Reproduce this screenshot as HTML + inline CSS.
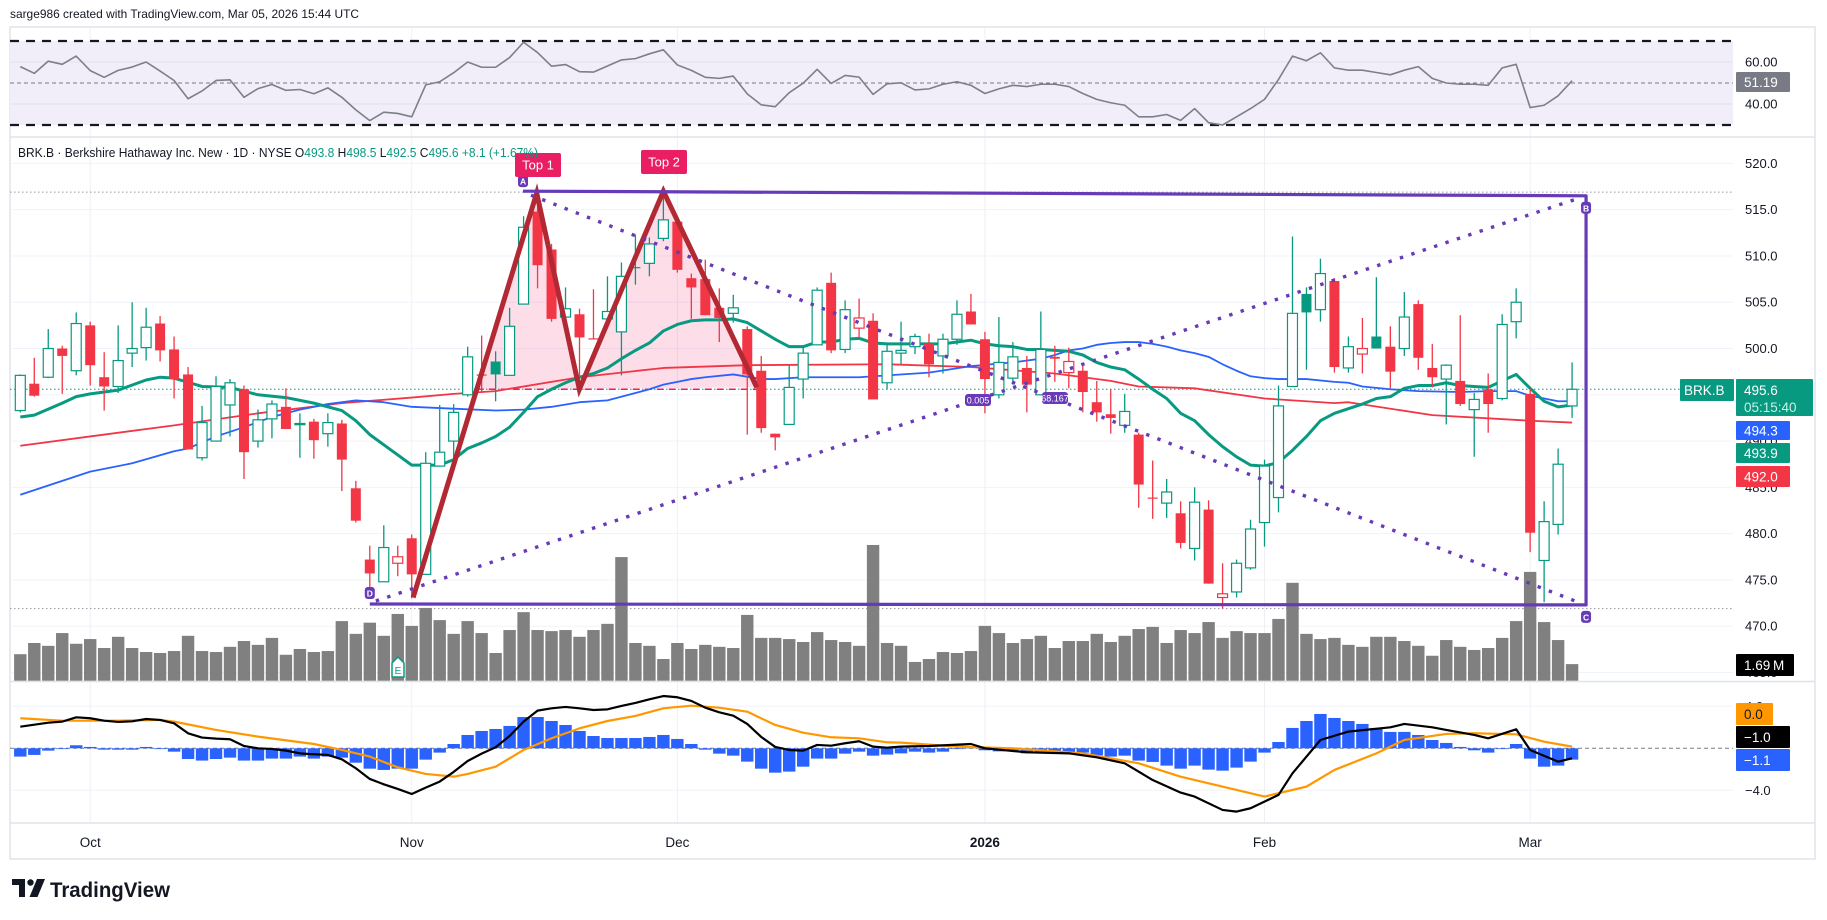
<!DOCTYPE html>
<html><head><meta charset="utf-8"><title>BRK.B chart</title>
<style>
html,body{margin:0;padding:0;background:#fff;}
svg{display:block;font-family:"Liberation Sans",Arial,sans-serif;}
</style></head>
<body>
<svg id="chart" width="1827" height="920" viewBox="0 0 1827 920" xmlns="http://www.w3.org/2000/svg">
  <rect x="0" y="0" width="1827" height="920" fill="#ffffff"/>
  <text x="10" y="18" font-size="12" fill="#131722" textLength="349" lengthAdjust="spacingAndGlyphs">sarge986 created with TradingView.com, Mar 05, 2026 15:44 UTC</text>
  <rect x="10" y="27" width="1805" height="832" fill="none" stroke="#e0e3eb" stroke-width="1.5"/>
  <g id="grid"></g>
  <g id="rsiPane"></g>
  <g id="volPane"></g>
  <g id="fills"></g>
  <g id="maPane"></g>
  <g id="candlePane"></g>
  <g id="drawPane"></g>
  <g id="macdPane"></g>
  <g id="axisPane"></g>
  <text x="18" y="157" font-size="13" fill="#131722" textLength="520" lengthAdjust="spacingAndGlyphs">BRK.B · Berkshire Hathaway Inc. New · 1D · NYSE  O<tspan fill="#089981">493.8</tspan>  H<tspan fill="#089981">498.5</tspan>  L<tspan fill="#089981">492.5</tspan>  C<tspan fill="#089981">495.6</tspan>  <tspan fill="#089981">+8.1 (+1.67%)</tspan></text>
  <g>
    <path d="M12 879 h13 v18 h-6 v-12 h-7 z" fill="#131722"/>
    <circle cx="30.5" cy="882.5" r="3.2" fill="#131722"/>
    <path d="M37 879 h8 l-7.5 18 h-8 z" fill="#131722"/>
    <text x="50" y="897" font-size="21" font-weight="bold" fill="#131722" textLength="120" lengthAdjust="spacingAndGlyphs">TradingView</text>
  </g>
</svg>
<script>
// ---------- data ----------
const opens=[493.3,496.2,496.9,500.0,497.6,502.5,496.9,495.9,499.5,500.1,502.7,499.9,497.2,488.2,490.0,493.9,495.6,490.0,492.4,493.7,491.8,492.1,490.8,491.9,484.9,477.2,474.8,476.8,479.5,475.6,487.3,490.0,495.0,497.2,498.6,497.1,504.8,514.8,510.7,503.4,503.7,501.1,503.2,501.8,508.8,509.2,511.9,513.7,507.6,507.5,504.4,503.8,502.1,497.6,490.8,491.8,496.7,500.4,507.1,499.9,502.2,503.0,496.3,499.5,500.2,500.5,499.2,501.0,504.0,501.0,495.0,496.8,497.9,495.0,499.1,497.4,497.6,494.2,492.9,491.7,490.7,483.9,483.3,482.2,478.4,482.6,473.1,473.7,476.3,481.2,483.9,495.9,505.9,504.2,507.3,497.9,499.4,501.3,500.2,500.0,504.8,497.9,496.7,496.5,493.4,495.6,494.6,502.9,495.1,477.1,481.0,493.8];
const highs=[497.2,499.0,502.1,500.3,503.9,502.9,499.6,502.5,505.0,504.4,503.5,501.3,498.0,493.8,497.0,496.7,496.0,493.4,494.4,495.7,493.0,492.4,493.0,492.3,485.7,478.7,480.9,478.7,479.9,488.8,493.9,494.0,500.2,501.4,499.7,504.4,514.3,516.6,511.3,506.6,504.3,506.4,507.8,509.3,512.3,512.0,516.9,513.8,508.1,509.6,506.5,505.8,502.4,499.2,490.8,498.2,500.2,506.6,508.2,505.2,505.4,503.8,500.4,502.9,501.6,501.6,501.6,505.2,505.9,501.8,503.4,500.7,499.2,504.0,500.3,500.1,498.3,496.5,495.6,495.1,490.9,487.9,485.9,483.5,485.0,483.6,476.8,477.2,481.5,488.0,496.0,512.1,506.6,509.7,507.6,501.3,503.3,507.7,502.4,506.1,505.2,500.5,498.3,503.6,495.2,497.3,503.7,506.5,495.7,483.5,489.2,498.5];
const lows=[493.1,494.8,496.8,495.1,497.1,496.0,493.3,495.2,498.0,498.7,498.6,494.6,489.1,487.9,490.0,490.5,485.9,489.3,490.3,491.3,488.2,488.1,489.4,484.6,481.2,474.0,474.8,475.4,473.0,475.6,487.3,486.8,494.8,495.2,494.3,497.1,504.8,506.5,502.9,502.8,495.4,501.0,503.2,497.1,506.9,507.8,511.6,508.2,503.2,503.6,500.7,502.8,490.7,490.9,489.0,491.8,494.6,500.4,499.5,499.5,501.1,494.5,495.6,498.3,499.4,496.9,497.3,500.4,502.6,493.0,494.6,496.1,493.1,495.0,496.4,495.7,493.1,492.1,490.8,490.9,482.8,481.6,481.7,478.4,477.1,474.6,471.9,473.1,476.1,478.6,482.3,495.9,497.7,502.9,497.4,497.4,497.3,500.0,495.7,499.2,497.7,495.8,491.8,493.8,488.3,490.9,494.4,501.1,478.0,472.6,479.9,492.5];
const closes=[497.1,494.9,500.0,499.2,502.7,498.2,495.9,498.7,500.0,502.3,499.8,496.7,489.1,492.0,495.9,496.3,488.8,492.3,494.0,491.3,491.9,490.1,492.0,488.0,481.4,475.7,478.5,477.5,475.6,487.6,488.8,493.1,499.1,497.1,497.2,502.4,513.1,509.0,503.2,504.3,501.2,501.0,504.0,507.8,508.7,511.3,513.9,508.5,506.6,503.6,503.3,504.4,497.2,491.4,490.4,495.8,499.5,506.3,499.8,504.2,503.3,494.5,499.7,499.8,501.3,498.3,501.0,503.7,502.6,496.7,498.5,499.1,496.1,499.9,498.9,498.6,495.3,493.1,492.5,493.2,485.3,483.8,484.5,479.0,483.4,474.6,473.5,476.8,480.5,487.3,493.8,503.8,503.9,508.1,498.0,500.2,500.0,500.0,497.5,503.4,499.0,496.9,498.2,494.0,494.5,494.0,502.6,505.0,480.1,481.3,487.5,495.6];
const volumes=[2.70,3.84,3.55,4.85,3.76,4.24,3.33,4.47,3.33,2.92,2.82,3.02,4.57,3.02,2.92,3.45,4.04,3.65,4.36,2.64,3.23,2.92,3.02,6.07,4.77,5.91,4.57,6.80,5.58,7.41,6.17,4.77,6.07,4.85,2.82,5.16,6.98,5.16,5.05,5.16,4.47,5.16,5.79,12.59,3.84,3.55,2.21,3.84,3.23,3.65,3.45,3.33,6.70,4.36,4.36,4.24,3.94,4.95,4.14,3.94,3.55,13.82,3.84,3.55,1.91,2.21,2.92,2.82,3.02,5.58,4.85,3.84,4.24,4.57,3.33,4.04,4.04,4.77,3.94,4.57,5.26,5.48,3.84,5.16,4.85,5.97,4.36,5.05,4.85,4.85,6.29,9.97,4.77,4.24,4.36,3.65,3.45,4.47,4.47,4.04,3.55,2.54,4.14,3.45,3.13,3.33,4.36,6.07,11.08,5.97,4.14,1.69];
const rsiValues=[57.8,54.6,60.4,58.9,62.8,55.9,52.7,56.0,57.6,60.0,55.7,51.2,42.5,46.2,51.2,51.5,43.2,47.3,49.3,46.5,46.9,44.9,47.7,43.2,37.2,32.1,36.1,35.5,33.9,49.1,50.6,54.9,60.0,57.5,57.5,62.1,69.4,64.5,58.0,58.8,55.4,55.2,58.1,61.0,61.6,63.9,65.8,58.6,56.0,52.7,52.2,53.3,44.8,39.6,38.7,45.4,49.9,56.5,49.8,53.6,52.8,44.6,49.6,50.1,46.7,47.2,49.4,50.6,48.9,45.0,47.2,48.9,48.3,49.4,49.4,48.3,45.0,42.2,40.6,39.4,33.9,33.9,35.0,32.2,37.8,31.1,30.0,33.9,37.8,42.2,51.7,62.8,60.6,64.4,57.2,56.1,56.1,55.0,53.9,56.1,57.8,52.2,50.0,49.4,49.4,48.9,57.2,58.9,38.3,39.4,43.9,51.1];
const macdHist=[-0.79,-0.63,-0.22,-0.05,0.29,0.13,-0.13,-0.13,-0.13,0.13,-0.05,-0.32,-1.02,-1.17,-1.02,-0.89,-1.17,-1.17,-0.98,-0.98,-0.79,-0.98,-0.79,-0.89,-1.37,-1.94,-2.06,-1.94,-1.94,-1.08,-0.41,0.41,1.27,1.65,1.84,2.13,2.98,2.98,2.60,2.22,1.65,1.17,0.98,0.98,0.98,1.08,1.27,0.89,0.41,-0.13,-0.51,-0.70,-1.27,-1.94,-2.32,-2.22,-1.75,-0.98,-0.98,-0.51,-0.32,-0.70,-0.60,-0.48,-0.32,-0.41,-0.32,-0.05,0.13,-0.19,-0.29,-0.19,-0.48,-0.41,-0.41,-0.41,-0.41,-0.67,-0.79,-0.70,-1.17,-1.30,-1.65,-1.94,-1.65,-2.03,-2.13,-1.84,-1.27,-0.41,0.60,1.94,2.60,3.27,2.89,2.60,2.32,1.94,1.56,1.56,1.27,0.79,0.51,0.13,-0.19,-0.41,-0.05,0.41,-0.98,-1.75,-1.65,-1.08];
const macdIdx=[0,2,3,4,5,6,7,8,9,10,11,12,13,14,15,16,17,18,19,20,21,22,23,24,25,26,27,28,29,30,31,32,33,34,35,36,37,38,39,40,41,42,43,44,45,46,47,48,49,50,51,52,53,54,55,56,57,58,59,60,61,62,63,65,68,69,72,75,77,79,81,83,84,86,87,88,90,91,93,95,98,99,101,102,104,105,107,108,110,111];
const macdLine=[2.06,2.44,2.54,2.95,2.86,2.63,2.51,2.57,2.79,2.70,2.38,1.43,1.02,0.92,0.86,0.22,0.0,-0.06,-0.22,-0.48,-0.57,-0.63,-1.05,-1.90,-2.92,-3.43,-3.87,-4.35,-3.75,-3.17,-2.25,-1.21,-0.51,0.10,1.17,2.54,3.59,3.81,3.94,3.81,3.65,3.71,4.03,4.32,4.67,4.98,4.86,4.51,3.87,3.43,3.11,2.32,1.08,0.13,-0.16,-0.22,0.32,0.25,0.48,0.67,0.16,0.06,0.16,0.22,0.41,0.0,-0.38,-0.48,-0.86,-1.43,-3.02,-4.22,-4.60,-5.87,-6.03,-5.71,-4.44,-2.38,0.79,1.59,2.00,2.32,2.00,1.75,1.27,0.95,1.81,-0.16,-1.27,-0.95];
const signalIdx=[0,3,7,10,11,14,17,21,23,25,27,29,31,32,34,36,38,40,42,44,46,48,50,52,54,56,58,60,62,63,67,71,76,80,83,87,89,92,94,97,99,102,104,107,109,111];
const signalLine=[2.86,2.63,2.63,2.70,2.54,1.75,1.11,0.41,-0.16,-0.79,-1.81,-2.44,-2.70,-2.44,-1.75,-0.16,0.95,1.90,2.60,3.08,3.81,4.06,3.87,3.49,2.22,1.49,1.05,0.95,0.57,0.54,0.16,0.0,-0.48,-1.43,-2.70,-3.97,-4.60,-3.65,-2.06,-0.48,0.79,1.37,1.43,1.33,0.63,0.16];
const emaIdx=[0,1,3,4,5,7,9,10,11,13,15,16,17,19,21,23,24,25,26,27,28,30,31,32,33,34,35,36,37,38,39,40,41,42,43,44,45,46,47,48,49,50,51,52,53,54,55,56,57,58,59,60,61,62,63,64,65,66,67,68,69,70,71,72,73,74,75,76,77,78,79,80,81,82,83,84,85,86,87,88,89,90,91,92,93,94,95,96,97,98,99,100,101,102,103,104,105,106,107,108,109,110,111];
const emaValues=[492.6,492.8,494.1,494.8,495.1,495.5,496.6,496.9,496.8,495.9,495.8,495.4,495.0,494.7,494.1,493.3,492.2,490.7,489.6,488.5,487.4,487.4,488.0,489.2,489.8,490.5,491.5,493.1,494.8,495.6,496.3,496.9,497.3,497.9,498.9,499.8,500.6,501.9,502.6,503.0,503.1,503.1,503.2,502.8,501.9,501.0,500.2,500.2,500.7,500.7,501.0,501.1,500.6,500.5,500.5,500.5,500.5,500.5,500.7,500.9,500.5,500.3,500.2,499.9,499.9,499.8,499.7,499.3,498.5,498.0,497.7,496.7,495.6,494.6,493.0,492.2,490.7,489.4,488.3,487.4,487.3,487.7,489.0,490.5,492.2,493.0,493.5,494.0,494.6,494.8,495.7,496.0,496.0,496.3,496.0,495.9,495.8,496.5,497.2,495.7,494.3,493.7,493.9];
const smaBlueIdx=[0,3,5,8,11,12,14,16,18,20,22,24,26,28,31,34,36,38,40,42,44,45,46,47,48,49,51,53,54,56,60,62,65,68,71,73,74,75,76,77,78,79,80,81,82,83,84,85,86,87,88,89,90,92,94,95,96,98,100,103,105,107,108,109,110,111];
const smaBlueValues=[484.2,485.7,486.7,487.6,488.9,489.2,490.5,491.5,492.6,493.4,494.0,494.4,494.2,493.7,493.5,493.3,493.4,493.7,494.2,494.4,495.2,495.6,496.1,496.4,496.7,496.9,497.2,496.7,496.7,496.9,496.9,497.1,497.4,498.1,498.5,498.9,499.3,499.8,500.0,500.4,500.6,500.7,500.7,500.5,500.2,499.8,499.5,499.1,498.3,497.6,497.0,496.8,496.7,496.7,496.4,496.3,495.9,495.6,495.4,495.3,495.4,495.4,494.9,494.6,494.3,494.3];
const smaRedIdx=[0,5,11,17,23,28,31,34,40,46,52,62,68,74,78,80,84,89,94,95,101,108,111];
const smaRedValues=[489.5,490.5,491.7,493.0,494.1,494.7,495.1,495.4,496.9,497.9,498.2,498.3,498.0,497.3,496.5,495.9,495.7,494.6,494.1,494.2,492.8,492.2,492.0];
const monthIdx=[5,28,47,69,89,108];
const monthLabels=["Oct","Nov","Dec","2026","Feb","Mar"];
const priceTicks=[520,515,510,505,500,495,490,485,480,475,470,465];
const patternIdx=[28.1,36.94,39.99,46.0,52.68];
const patternPrice=[473.1,516.8,495.6,517.0,495.8];
const boxIdx=[35.96,112,112,25.0];
const boxPrice=[517.0,516.5,472.3,472.4];

// ---------- scales ----------
function xOf(i){return 20.3+13.98*i;}
function yP(p){return 163.4+(520-p)*9.256;}
function yV(v){return 680.7-v*9.82;}
function yR(r){return 125-(r-30)*2.1;}
function yM(m){return 748.3-m*10.5;}
const NS="http://www.w3.org/2000/svg";
function mk(parent,tag,attrs,text){const e=document.createElementNS(NS,tag);for(const k in attrs)e.setAttribute(k,attrs[k]);if(text!==undefined)e.textContent=text;parent.appendChild(e);return e;}
const G=id=>document.getElementById(id);
const GREEN="#089981",RED="#f23645";
const PX1=1733;

// ---------- grid ----------
const grid=G('grid');
priceTicks.forEach(p=>{const l=mk(grid,'line',{x1:10,x2:PX1,y1:yP(p),y2:yP(p),stroke:'#f0f3fa','stroke-width':1});

});
[4,-4].forEach(m=>{const l=mk(grid,'line',{x1:10,x2:PX1,y1:yM(m),y2:yM(m),stroke:'#f0f3fa','stroke-width':1});

});
monthIdx.forEach((m,k)=>{const x=xOf(m);const l=mk(grid,'line',{x1:x,x2:x,y1:28,y2:823,stroke:'#eef0f4','stroke-width':1});


const t=mk(grid,'text',{x:x,y:847,'font-size':13.5,'text-anchor':'middle',fill:'#131722','font-weight':monthLabels[k]==='2026'?'bold':'normal'},monthLabels[k]);

});
[[137,'rsi-pane-separator'],[681.5,'macd-pane-separator'],[823,'time-axis-separator']].forEach(([y,n])=>{const l=mk(grid,'line',{x1:10,x2:1815,y1:y,y2:y,stroke:'#e0e3eb','stroke-width':1.5});

});
[[516.9,'#9598a1','high-level-line'],[471.9,'#9598a1','low-level-line'],[495.6,GREEN,'last-price-line']].forEach(([p,c,n])=>{const l=mk(grid,'line',{x1:10,x2:PX1,y1:yP(p),y2:yP(p),stroke:c,'stroke-width':1,'stroke-dasharray':'1.5 2.5'});

});

// ---------- RSI ----------
const rsi=G('rsiPane');
const band=mk(rsi,'rect',{x:10,y:yR(70),width:PX1-10,height:yR(30)-yR(70),fill:'#f1eef9'});


[60,40].forEach(r=>{const l=mk(rsi,'line',{x1:10,x2:PX1,y1:yR(r),y2:yR(r),stroke:'#e3e0ee','stroke-width':1});

});
const mid=mk(rsi,'line',{x1:10,x2:PX1,y1:yR(50),y2:yR(50),stroke:'#787b86','stroke-width':1,'stroke-dasharray':'4 3'});


[70,30].forEach(r=>{const l=mk(rsi,'line',{x1:10,x2:PX1,y1:yR(r),y2:yR(r),stroke:'#131722','stroke-width':2.2,'stroke-dasharray':'9 7'});

});
const rpts=rsiValues.map((v,i)=>xOf(i)+','+yR(v)).join(' ');
const rl=mk(rsi,'polyline',{points:rpts,fill:'none',stroke:'#7e7f86','stroke-width':1.6,'stroke-linejoin':'round'});



// ---------- Volume ----------
const vol=G('volPane');
volumes.forEach((v,i)=>{const r=mk(vol,'rect',{x:xOf(i)-6.2,y:yV(v),width:12.4,height:680.7-yV(v),fill:'#808080'});

});
const em=mk(vol,'g',{});


mk(em,'path',{d:'M392 663 L398 657 L404 663 L404 677 L392 677 Z',fill:'#fff',stroke:GREEN,'stroke-width':1.5});
mk(em,'text',{x:398,y:674,'font-size':10,'text-anchor':'middle',fill:GREEN},'E');

// ---------- Pattern fill ----------
const fills=G('fills');
const neck=yP(patternPrice[2]);
const p0x=xOf(patternIdx[0]),p0y=yP(patternPrice[0]),p1x=xOf(patternIdx[1]),p1y=yP(patternPrice[1]);
const tcross=(p0y-neck)/(p0y-p1y);const crossX=p0x+(p1x-p0x)*tcross;
let fpts=crossX+','+neck;
for(let k=1;k<patternIdx.length;k++)fpts+=' '+xOf(patternIdx[k])+','+yP(patternPrice[k]);
const fp=mk(fills,'polygon',{points:fpts,fill:'rgba(233,30,99,0.15)'});


const nl=mk(fills,'line',{x1:crossX,x2:xOf(patternIdx[4]),y1:neck,y2:neck,stroke:'#e91e63','stroke-width':1.5,'stroke-dasharray':'7 5'});



// ---------- MAs ----------
const ma=G('maPane');
function maLine(idx,vals,color,w,name){const pts=idx.map((i,k)=>xOf(i)+','+yP(vals[k])).join(' ');
const l=mk(ma,'polyline',{points:pts,fill:'none',stroke:color,'stroke-width':w,'stroke-linejoin':'round'});

}
maLine(smaRedIdx,smaRedValues,'#f23645',1.8,'ma-red-line');
maLine(smaBlueIdx,smaBlueValues,'#2962ff',1.8,'ma-blue-line');
maLine(emaIdx,emaValues,'#089981',3,'ma-green-line');

// ---------- Candles ----------
const cp=G('candlePane');
closes.forEach((c,i)=>{const o=opens[i],h=highs[i],l=lows[i];const prev=i>0?closes[i-1]:o;
const col=c>=prev?GREEN:RED;const hollow=c>o;const x=xOf(i);
const g=mk(cp,'g',{});


mk(g,'line',{x1:x,x2:x,y1:yP(h),y2:yP(l),stroke:col,'stroke-width':1.3});
const top=yP(Math.max(o,c)),bot=yP(Math.min(o,c));
mk(g,'rect',{x:x-5,y:top,width:10,height:Math.max(1.2,bot-top),fill:hollow?'#fff':col,stroke:col,'stroke-width':hollow?1.2:0});});

// ---------- Drawings ----------
const dp=G('drawPane');
const pz=mk(dp,'polyline',{points:patternIdx.map((i,k)=>xOf(i)+','+yP(patternPrice[k])).join(' '),fill:'none',stroke:'#b22833','stroke-width':5,'stroke-linejoin':'miter'});


const A=[xOf(boxIdx[0]),yP(boxPrice[0])],B=[xOf(boxIdx[1]),yP(boxPrice[1])],C=[xOf(boxIdx[2]),yP(boxPrice[2])],D=[xOf(boxIdx[3]),yP(boxPrice[3])];
const d1=mk(dp,'line',{x1:D[0]+6,y1:D[1]-3,x2:B[0]-6,y2:B[1]+2,stroke:'#673ab7','stroke-width':3.4,'stroke-dasharray':'3.4 8.6'});


const d2=mk(dp,'line',{x1:A[0]+8,y1:A[1]+4,x2:C[0]-6,y2:C[1]-2,stroke:'#673ab7','stroke-width':3.4,'stroke-dasharray':'3.4 8.6'});


const pl=mk(dp,'polyline',{points:A.join(',')+' '+B.join(',')+' '+C.join(',')+' '+D.join(','),fill:'none',stroke:'#673ab7','stroke-width':3.2,'stroke-linejoin':'round'});


[['A',A[0],A[1]-10],['B',B[0],B[1]+12],['C',C[0],C[1]+12],['D',D[0],D[1]-11]].forEach(([t,x,y])=>{const g=mk(dp,'g',{});


mk(g,'rect',{x:x-5,y:y-6,width:10,height:12,rx:3,fill:'#673ab7'});
mk(g,'text',{x:x,y:y+3.5,'font-size':8.5,'font-weight':'bold','text-anchor':'middle',fill:'#fff'},t);});
[['0.005',978,400],['68.167',1055,398]].forEach(([t,x,y])=>{const g=mk(dp,'g',{});


mk(g,'rect',{x:x-13,y:y-6,width:26,height:12,rx:3,fill:'#673ab7'});
mk(g,'text',{x:x,y:y+3.5,'font-size':9,'text-anchor':'middle',fill:'#fff'},t);});
[['Top 1',515,153],['Top 2',641,150]].forEach(([t,x,y])=>{const g=mk(dp,'g',{});


mk(g,'rect',{x:x,y:y,width:46,height:24,rx:2,fill:'#e91e63'});
mk(g,'text',{x:x+23,y:y+16.5,'font-size':13,'text-anchor':'middle',fill:'#fff'},t);});

// ---------- MACD ----------
const mp=G('macdPane');
const zl=mk(mp,'line',{x1:10,x2:PX1,y1:yM(0),y2:yM(0),stroke:'#787b86','stroke-width':1,'stroke-dasharray':'4 3'});


macdHist.forEach((h,i)=>{const y0=yM(0),y1=yM(h);const r=mk(mp,'rect',{x:xOf(i)-6.2,y:Math.min(y0,y1),width:12.4,height:Math.max(0.8,Math.abs(y1-y0)),fill:'#2962ff'});

});
const sg=mk(mp,'polyline',{points:signalIdx.map((i,k)=>xOf(i)+','+yM(signalLine[k])).join(' '),fill:'none',stroke:'#ff9800','stroke-width':2.2,'stroke-linejoin':'round'});


const ml=mk(mp,'polyline',{points:macdIdx.map((i,k)=>xOf(i)+','+yM(macdLine[k])).join(' '),fill:'none',stroke:'#000','stroke-width':2.2,'stroke-linejoin':'round'});



// ---------- Axis ----------
const ax=G('axisPane');
priceTicks.forEach(p=>{const t=mk(ax,'text',{x:1745,y:yP(p)+4.5,'font-size':13,fill:'#131722'},p.toFixed(1));

});
[[60,'60.00'],[40,'40.00']].forEach(([r,s])=>{const t=mk(ax,'text',{x:1745,y:yR(r)+4.5,'font-size':13,fill:'#131722'},s);

});
[[4,'4.0'],[-4,'\u22124.0']].forEach(([m,s])=>{const t=mk(ax,'text',{x:1745,y:yM(m)+4.5,'font-size':13,fill:'#131722'},s);

});
function box(x,y,w,h,fill,txt,col,name,tx){const g=mk(ax,'g',{});


mk(g,'rect',{x:x,y:y,width:w,height:h,fill:fill,rx:1});
mk(g,'text',{x:tx||x+8,y:y+h/2+4.8,'font-size':13.5,fill:col},txt);return g;}
box(1736,72,54,20,'#787b86','51.19','#fff','rsi-value-label');
box(1680,379,54,22,GREEN,'BRK.B','#fff','symbol-price-tag',1684);
const pg=box(1736,379,77,37,GREEN,'495.6','#fff','last-price-label');
pg.lastChild.setAttribute('y',395);
const cd=mk(pg,'text',{x:1744,y:412,'font-size':13.5,fill:'#c8f0e4'},'05:15:40');


box(1736,421,54,19,'#2962ff','494.3','#fff','ma-blue-value-label');
box(1736,443,54,20,GREEN,'493.9','#fff','ma-green-value-label');
box(1736,466,54,21,RED,'492.0','#fff','ma-red-value-label');
box(1736,654,58,22,'#000','1.69\u2009M','#fff','volume-value-label');
box(1736,703,37,22,'#ff9800','0.0','#131722','signal-value-label');
box(1736,726,54,22,'#000','\u22121.0','#fff','macd-value-label');
box(1736,749,54,22,'#2962ff','\u22121.1','#fff','histogram-value-label');
</script>
</body></html>
